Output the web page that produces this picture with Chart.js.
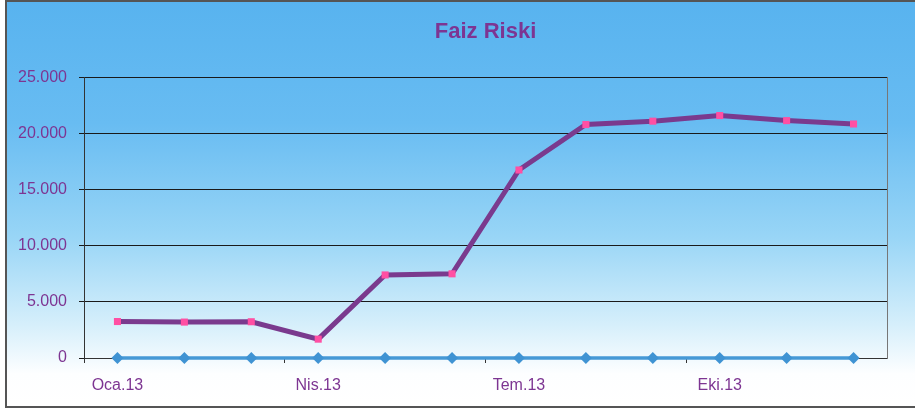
<!DOCTYPE html>
<html>
<head>
<meta charset="utf-8">
<script src="https://cdn.jsdelivr.net/npm/chart.js@4/dist/chart.umd.min.js"></script>
<style>
  html, body { margin: 0; padding: 0; background: #fff; }
  #frame {
    position: absolute; left: 5px; top: 0; width: 920px; height: 404px;
    border-top: 2px solid #555; border-left: 2px solid #555; border-bottom: 2px solid #555;
    background: linear-gradient(to bottom, #58b3ef 0%, #68bcf2 30%, #98d5f6 58%, #d6effb 80%, #fdfeff 92%, #ffffff 100%);
  }
  #wrap { position: absolute; left: 0; top: 0; width: 915px; height: 412px; }
</style>
</head>
<body>
<div id="frame"></div>
<div id="wrap"><canvas id="faizChart" width="915" height="412"></canvas></div>
<script>
const months = ['Oca.13', 'Şub.13', 'Mar.13', 'Nis.13', 'May.13', 'Haz.13',
                'Tem.13', 'Ağu.13', 'Eyl.13', 'Eki.13', 'Kas.13', 'Ara.13']
const riskValues = [3250, 3200, 3230, 1680, 7400, 7500, 16750, 20800, 21100, 21600, 21150, 20850]
const baseValues = [0, 0, 0, 0, 0, 0, 0, 0, 0, 0, 0, 0]
const yTicks = [0, 5000, 10000, 15000, 20000, 25000]

const purple = '#7a3a8e'
const textPurple = '#7d3592'
const fmt = v => String(v).replace(/\B(?=(\d{3})+(?!\d))/g, '.')

new Chart(document.getElementById('faizChart'), {
  type: 'line',
  data: {
    labels: months,
    datasets: [{
      label: 'Faiz Riski',
      data: riskValues,
      borderColor: purple, borderWidth: 5,
      pointStyle: 'rect', pointRadius: 5,
      pointBackgroundColor: '#ff4fa3', pointBorderColor: '#ff4fa3', pointBorderWidth: 0,
      tension: 0, clip: false, order: 1
    }, {
      label: 'Baz',
      data: baseValues,
      borderColor: '#4699d6', borderWidth: 3.5,
      pointStyle: 'rectRot', pointRadius: 6,
      pointBackgroundColor: '#3f93d3', pointBorderColor: '#3f93d3', pointBorderWidth: 0,
      tension: 0, clip: false, order: 0
    }]
  },
  options: {
    responsive: false, animation: false,
    layout: { padding: { left: 0, right: 28, top: 0, bottom: 0 } },
    plugins: {
      legend: { display: false },
      tooltip: { enabled: false },
      title: {
        display: true, text: 'Faiz Riski', color: textPurple,
        fullSize: false, // centre over the plot area, not the whole canvas
        font: { family: 'Liberation Sans', size: 22, weight: 'bold' },
        padding: { top: 19, bottom: 32 }
      }
    },
    scales: {
      x: {
        offset: true,
        grid: {
          offset: true, drawOnChartArea: false, drawTicks: true, tickLength: 5,
          color: ctx => (ctx.index % 3 === 0 ? '#333' : 'rgba(0,0,0,0)')
        },
        border: { display: true, color: '#333', width: 1 },
        ticks: {
          autoSkip: false, maxRotation: 0, padding: 13, color: textPurple,
          font: { family: 'Liberation Sans', size: 16 },
          callback: (v, i) => (i % 3 === 0 ? months[i] : '')
        },
        afterFit: s => { s.height = 54 }
      },
      y: {
        min: 0, max: 25000,
        afterBuildTicks: s => { s.ticks = yTicks.map(v => ({ value: v })) },
        grid: { color: '#1a1a1a', lineWidth: 1, tickLength: 5 },
        border: { display: true, color: '#333', width: 1 },
        ticks: {
          padding: 12, color: textPurple,
          font: { family: 'Liberation Sans', size: 16 },
          callback: v => fmt(v)
        },
        afterFit: s => { s.width = 84 }
      },
      y2: {
        position: 'right', min: 0, max: 25000,
        grid: { drawOnChartArea: false, drawTicks: false },
        border: { display: true, color: '#777', width: 1 },
        ticks: { display: false },
        afterFit: s => { s.width = 0 }
      }
    }
  }
})
</script>
</body>
</html>
